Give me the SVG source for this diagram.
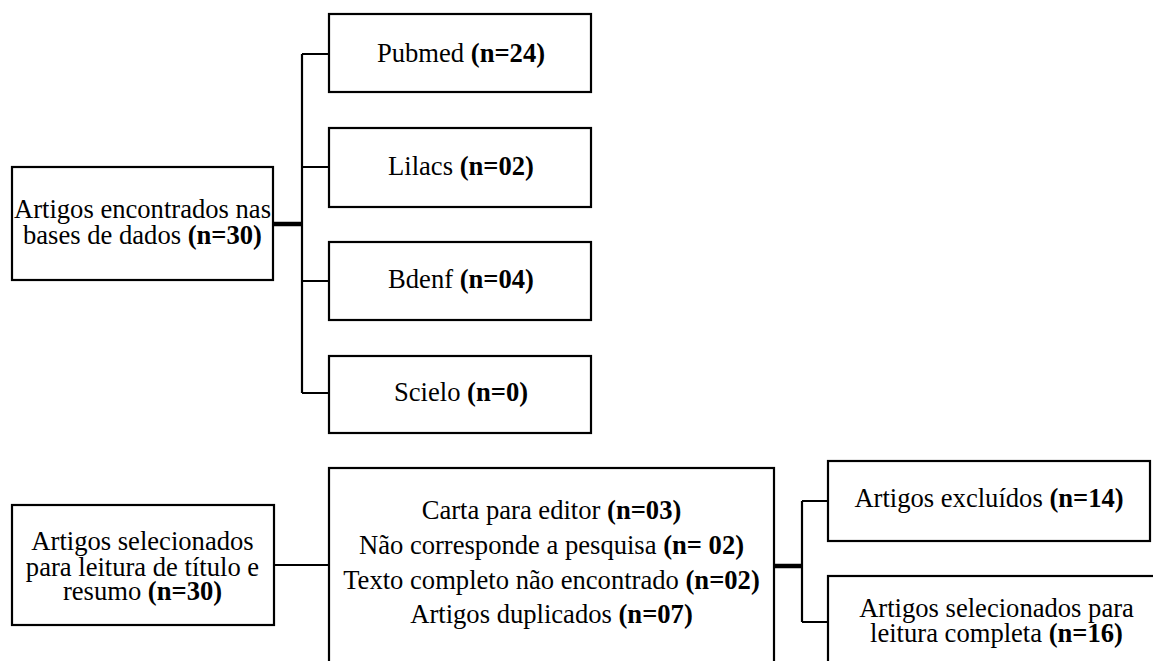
<svg xmlns="http://www.w3.org/2000/svg" width="1153" height="661" viewBox="0 0 1153 661">
<style>
.box{fill:#fff;stroke:#000;stroke-width:2.2}
.ln{fill:none;stroke:#000;stroke-width:2.2}
.thick{fill:none;stroke:#000;stroke-width:4.5}
.t{font-family:'Liberation Serif','Times New Roman',Tinos,'DejaVu Serif',serif;font-size:26.6px;fill:#000;text-anchor:middle}
.b{font-weight:bold}
</style>
<rect width="1153" height="661" fill="#fff"/>
<g id="connectors">
<path class="thick" d="M273 224H302"/>
<path class="ln" d="M302 54V393M302 54H329M302 167H329M302 281H329M302 393H329"/>
<path class="ln" d="M274 565H329"/>
<path class="thick" d="M774 566H802"/>
<path class="ln" d="M802 501V622M802 501H828M802 622H828"/>
</g>
<g id="n_total"><rect class="box" x="12" y="167" width="261" height="113"/>
<text class="t" x="142.5" y="218">Artigos encontrados nas</text>
<text class="t" x="142.5" y="244">bases de dados <tspan class="b">(n=30)</tspan></text></g>
<g id="n_pubmed"><rect class="box" x="329" y="14" width="262" height="78"/><text class="t" x="461" y="62">Pubmed <tspan class="b">(n=24)</tspan></text></g>
<g id="n_lilacs"><rect class="box" x="329" y="128" width="262" height="79"/><text class="t" x="461" y="175">Lilacs <tspan class="b">(n=02)</tspan></text></g>
<g id="n_bdenf"><rect class="box" x="329" y="242" width="262" height="78"/><text class="t" x="461" y="288">Bdenf <tspan class="b">(n=04)</tspan></text></g>
<g id="n_scielo"><rect class="box" x="329" y="356" width="262" height="77"/><text class="t" x="461" y="401">Scielo <tspan class="b">(n=0)</tspan></text></g>
<g id="n_selecionados"><rect class="box" x="12" y="505" width="262" height="120"/>
<text class="t" x="142.5" y="550">Artigos selecionados</text>
<text class="t" x="142.5" y="576">para leitura de título e</text>
<text class="t" x="142.5" y="600">resumo <tspan class="b">(n=30)</tspan></text></g>
<g id="n_exclusao"><rect class="box" x="329" y="468" width="445" height="200"/>
<text class="t" x="551.5" y="519">Carta para editor <tspan class="b">(n=03)</tspan></text>
<text class="t" x="551.5" y="554">Não corresponde a pesquisa <tspan class="b">(n= 02)</tspan></text>
<text class="t" x="551.5" y="589">Texto completo não encontrado <tspan class="b">(n=02)</tspan></text>
<text class="t" x="551.5" y="623">Artigos duplicados <tspan class="b">(n=07)</tspan></text></g>
<g id="n_excluidos"><rect class="box" x="828" y="461" width="322" height="80"/><text class="t" x="989" y="507">Artigos excluídos <tspan class="b">(n=14)</tspan></text></g>
<g id="n_completa"><rect class="box" x="828" y="576" width="340" height="100"/>
<text class="t" x="996.5" y="617">Artigos selecionados para</text>
<text class="t" x="996.5" y="642">leitura completa <tspan class="b">(n=16)</tspan></text></g>
</svg>
